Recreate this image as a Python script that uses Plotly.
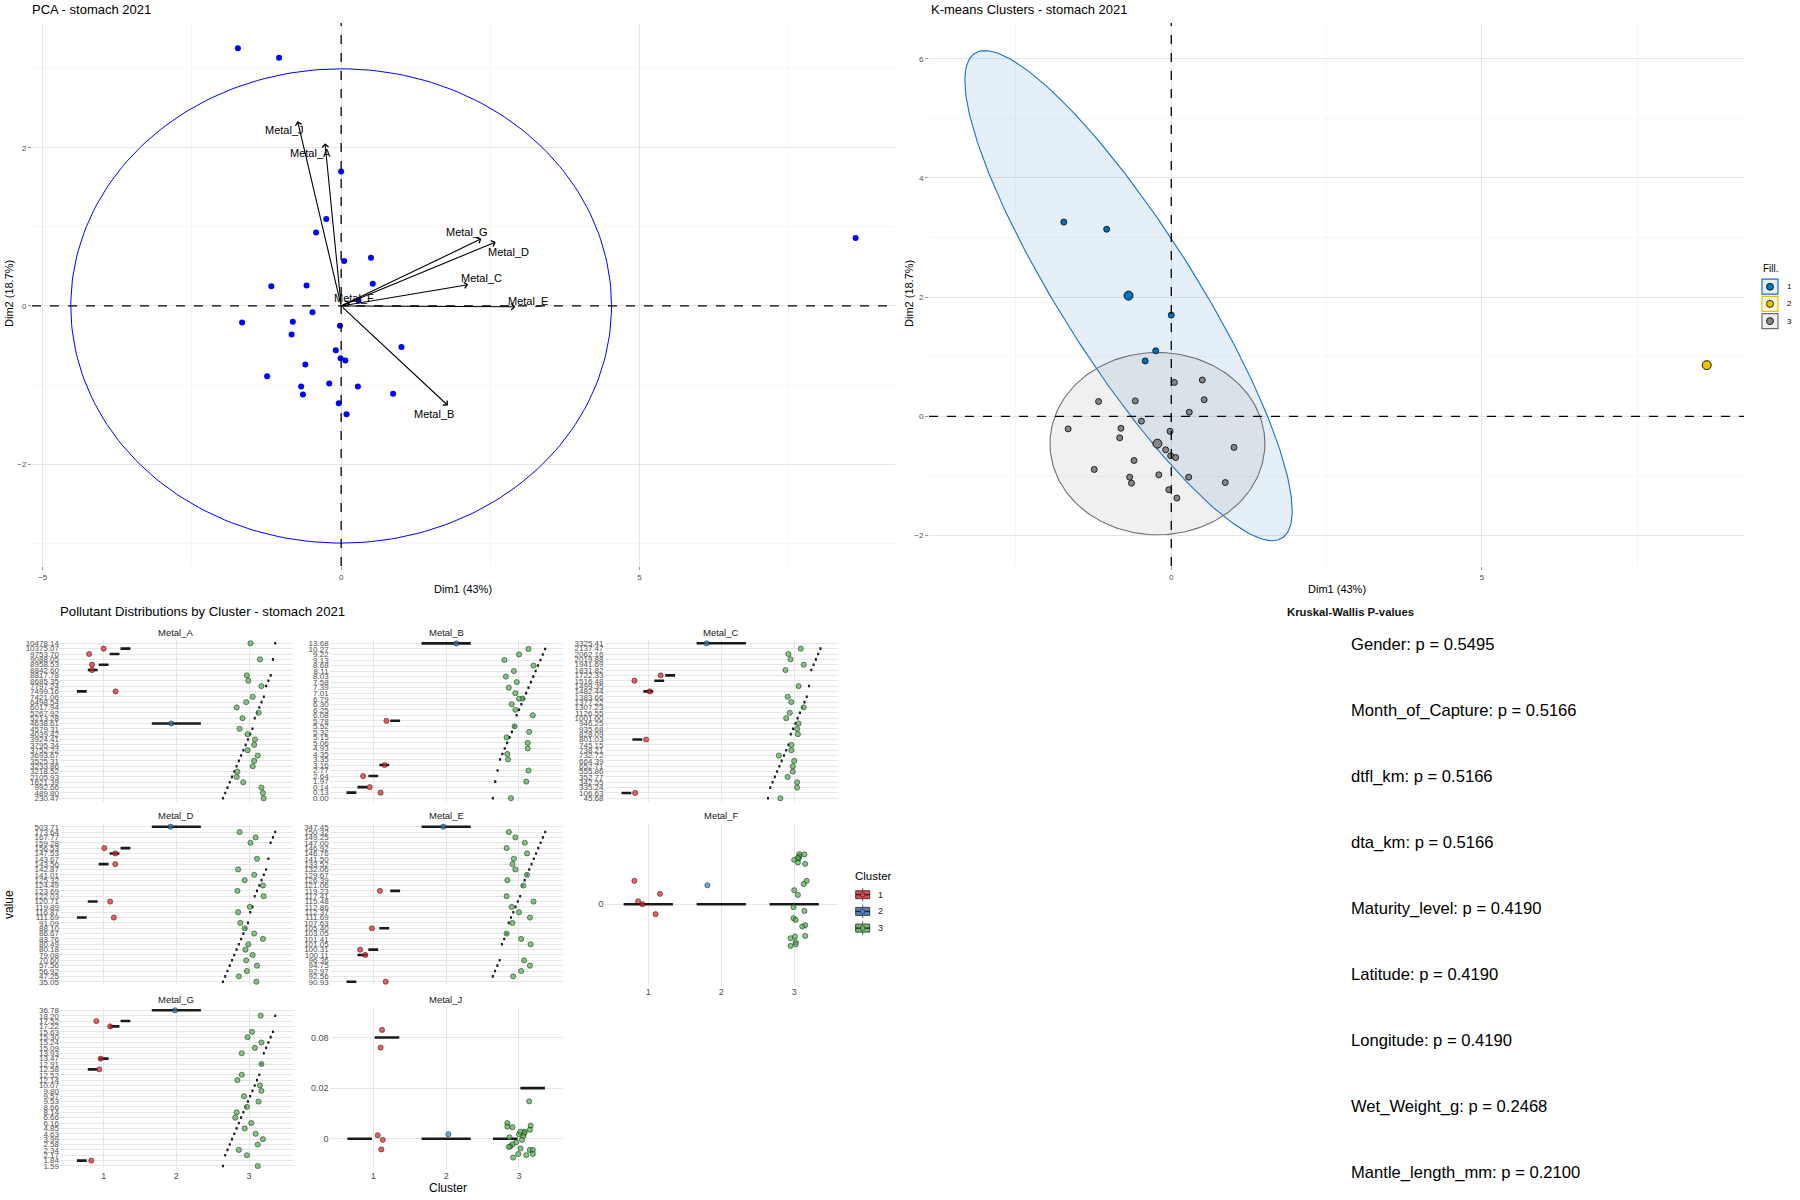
import numpy as np
import plotly.graph_objects as go

W, H = 1800, 1200
FONT = "Liberation Sans, Arial, Helvetica, sans-serif"
GRID = "#e6e6e6"
GRID_MINOR = "#f2f2f2"

# ---------------- PCA individuals (Dim1, Dim2) and k-means cluster ----------------
ind_x = [-1.73, -1.04, 0.00, -0.25, -0.42, 0.05, 0.50, 0.53, -1.17, -0.58, 0.29, -0.48, -1.66, -0.81, -0.02,
         -0.83, 1.01, -0.09, -0.01, 0.07, -0.60, -1.24, -0.20, -0.67, 0.28, 0.87, -0.64, -0.04, 0.09, 8.62]
ind_y = [3.26, 3.14, 1.70, 1.10, 0.93, 0.57, 0.61, 0.28, 0.25, 0.26, 0.07, -0.08, -0.21, -0.20, -0.25,
         -0.36, -0.52, -0.56, -0.66, -0.69, -0.74, -0.89, -0.98, -1.02, -1.02, -1.11, -1.12, -1.23, -1.37, 0.86]
ind_cluster = [1, 1, 1, 1, 1, 3, 3, 3, 3, 3, 3, 3, 3, 3, 3,
               3, 3, 3, 3, 3, 3, 3, 3, 3, 3, 3, 3, 3, 3, 2]

# variable arrows (loadings) and label positions
var_names = ["Metal_J", "Metal_A", "Metal_G", "Metal_D", "Metal_C", "Metal_E", "Metal_F", "Metal_B"]
var_x = [-0.73, -0.27, 2.35, 2.59, 2.13, 2.92, 0.15, 1.79]
var_y = [2.34, 2.06, 0.85, 0.81, 0.27, -0.01, 0.05, -1.26]
lab_x = [-0.95, -0.51, 2.11, 2.81, 2.35, 3.13, 0.22, 1.55]
lab_y = [2.22, 1.94, 0.94, 0.68, 0.35, 0.06, 0.10, -1.37]
circle_r = [4.53, 3.0]

# cluster ellipses (k-means panel): axis vectors in data units
ell1_u = [2.40, -4.10]
ell1_v = [1.087, 0.306]
ell3_r = [1.73, 1.53]

# ---------------- Pollutant facets ----------------
A_labels = ["10478.14", "10375.07", "9753.70", "9088.05", "8958.53", "8842.60", "8817.78", "8685.35", "7797.24",
            "7499.16", "7421.06", "6498.54", "6017.94", "5267.92", "5213.28", "4638.61", "4579.31", "4039.42",
            "3924.41", "3795.34", "3752.22", "3693.67", "3525.31", "3233.86", "3218.52", "2105.93", "1621.39",
            "992.66", "489.80", "230.47"]
A_clu = [3, 1, 1, 3, 1, 1, 3, 3, 3, 1, 3, 3, 3, 3, 3, 2, 3, 3, 3, 3, 3, 3, 3, 3, 3, 3, 3, 3, 3, 3]
A_x = [3.02, 1.00, 0.80, 3.15, 0.84, 0.84, 2.97, 2.99, 3.17, 1.165, 3.05, 2.96, 2.83, 3.13, 2.91, 1.93, 2.87,
       2.98, 3.08, 3.07, 2.98, 3.12, 3.07, 3.05, 2.84, 2.83, 2.92, 3.17, 3.19, 3.20]

B_labels = ["13.68", "10.27", "9.22", "9.13", "8.68", "8.11", "8.03", "7.58", "7.39", "7.01", "6.79", "6.30",
            "6.25", "6.08", "5.78", "5.52", "5.32", "5.15", "5.06", "4.93", "4.35", "3.35", "3.16", "2.77",
            "2.64", "1.97", "0.14", "0.13", "0.00"]
B_lvl = [0, 1, 2, 3, 4, 5, 6, 7, 8, 9, 10, 10, 11, 12, 13, 14, 15, 16, 17, 18, 19, 20, 21, 22, 23, 24, 25, 26, 27, 28]
B_clu = [2, 3, 3, 3, 3, 3, 3, 3, 3, 3, 3, 3, 3, 3, 3, 1, 3, 3, 3, 3, 3, 3, 3, 1, 3, 1, 3, 1, 1, 3]
B_x = [2.14, 3.13, 3.00, 2.80, 3.20, 2.93, 2.82, 2.97, 2.86, 2.95, 3.05, 3.00, 2.90, 2.95, 3.19, 1.18, 2.94,
       3.14, 2.83, 3.12, 3.12, 2.84, 2.85, 1.155, 3.13, 0.86, 3.10, 0.95, 1.10, 2.89]

C_labels = ["3325.41", "2137.47", "2062.16", "2019.88", "1941.69", "1831.82", "1722.33", "1516.48", "1499.35",
            "1482.44", "1383.66", "1377.22", "1307.23", "1126.55", "1001.00", "946.25", "935.68", "828.09",
            "801.03", "745.15", "738.21", "732.72", "664.39", "652.71", "555.86", "352.77", "342.55", "335.24",
            "106.63", "45.68"]
C_clu = [2, 3, 3, 3, 3, 3, 1, 1, 3, 1, 3, 3, 3, 3, 3, 3, 3, 3, 1, 3, 3, 3, 3, 3, 3, 3, 3, 3, 1, 3]
C_x = [1.80, 3.09, 2.92, 2.95, 3.13, 2.88, 1.17, 0.81, 3.06, 1.02, 2.91, 2.96, 3.13, 2.94, 2.89, 3.06, 3.04,
       3.05, 0.97, 2.96, 2.96, 2.79, 3.00, 2.98, 2.98, 2.91, 3.04, 3.04, 0.82, 2.81]

D_labels = ["503.71", "173.64", "167.77", "159.28", "156.53", "147.53", "143.67", "143.56", "142.87", "141.01",
            "125.32", "124.49", "123.69", "122.03", "120.71", "119.89", "116.87", "111.69", "91.09", "88.10",
            "86.67", "83.76", "80.49", "80.18", "79.08", "70.60", "57.56", "56.92", "47.25", "35.05"]
D_clu = [2, 3, 3, 3, 1, 1, 3, 1, 3, 3, 3, 3, 3, 3, 1, 3, 3, 1, 3, 3, 3, 3, 3, 3, 3, 3, 3, 3, 3, 3]
D_x = [1.92, 2.87, 3.09, 3.02, 1.01, 1.16, 3.11, 1.16, 2.85, 3.07, 2.94, 3.19, 2.84, 3.20, 1.09, 3.01, 2.85,
       1.14, 2.88, 2.94, 3.07, 3.19, 2.99, 2.95, 3.05, 2.96, 3.11, 2.97, 2.86, 3.10]

E_labels = ["347.45", "150.32", "149.25", "147.00", "146.92", "146.76", "141.50", "133.52", "132.06", "129.67",
            "126.39", "121.06", "119.23", "117.41", "115.48", "112.86", "112.37", "111.69", "107.63", "105.40",
            "103.05", "101.41", "101.05", "100.31", "100.11", "96.36", "94.75", "92.97", "92.56", "90.93"]
E_clu = [2, 3, 3, 3, 3, 3, 3, 3, 3, 3, 3, 3, 1, 3, 3, 3, 3, 3, 3, 1, 3, 3, 3, 1, 1, 3, 3, 3, 3, 1]
E_x = [1.96, 2.86, 2.95, 3.08, 2.83, 3.11, 2.93, 2.91, 2.95, 3.11, 2.84, 3.06, 1.09, 2.83, 3.20, 2.90, 3.00,
       3.15, 2.91, 0.98, 2.83, 3.03, 3.16, 0.82, 0.89, 3.07, 3.15, 3.03, 2.92, 1.17]

G_labels = ["36.78", "18.20", "17.52", "17.22", "15.63", "15.30", "15.24", "15.09", "13.93", "13.47", "12.91",
            "12.58", "12.52", "12.14", "10.07", "9.80", "9.57", "9.53", "8.66", "8.14", "6.66", "6.16", "4.85",
            "4.63", "3.99", "2.58", "2.34", "2.17", "1.84", "1.59"]
G_clu = [2, 3, 1, 1, 3, 3, 3, 3, 3, 1, 3, 1, 3, 3, 3, 3, 3, 3, 3, 3, 3, 3, 3, 3, 3, 3, 3, 3, 1, 3]
G_x = [1.98, 3.16, 0.90, 1.09, 3.04, 2.98, 3.17, 3.08, 2.90, 0.96, 3.17, 0.94, 2.90, 2.84, 3.15, 3.17, 2.93,
       3.13, 2.97, 2.83, 2.81, 3.03, 2.94, 3.09, 3.19, 3.12, 2.86, 2.97, 0.83, 3.12]

F_labels = ["0"]
F_clu = [1, 1, 1, 1, 1, 2] + [3] * 24
F_x = [0.81, 1.16, 0.86, 0.92, 1.10, 1.81,
       3.07, 3.14, 3.07, 3.06, 3.00, 3.05, 3.15, 3.17, 3.13, 3.00, 3.05, 2.99, 3.14, 2.99, 3.02, 3.15, 3.11,
       3.15, 3.01, 2.95, 3.02, 3.02, 2.95, 3.05]
F_y = [0.174, 0.077, 0.022, 0.0, -0.074, 0.141,
       0.372, 0.37, 0.355, 0.337, 0.33, 0.31, 0.30, 0.174, 0.151, 0.104, 0.069, -0.022, -0.05, -0.104, -0.117,
       -0.156, -0.166, -0.236, -0.241, -0.253, -0.283, -0.298, -0.31, 0.345]

J_labels = ["0", "0.02", "0.08"]
J_clu = [1, 1, 1, 1, 1, 2] + [3] * 24
J_cat = [2, 2, 0, 0, 0, 0, 1] + [0] * 23
J_x = [1.12, 1.10, 1.06, 1.13, 1.11, 2.03,
       3.14, 2.84, 2.84, 2.91, 3.16, 3.15, 3.08, 3.07, 3.00, 3.06, 2.87, 3.04, 2.96, 2.91, 2.88, 2.86, 3.02,
       3.15, 3.19, 2.99, 3.19, 2.92, 3.10, 3.02]
J_y = [2.15, 1.80, 0.07, -0.02, -0.21, 0.09,
       0.74, 0.31, 0.24, 0.23, 0.26, 0.18, 0.14, 0.11, 0.09, 0.05, 0.03, -0.02, -0.07, -0.11, -0.15, -0.16,
       -0.19, -0.22, -0.22, -0.30, -0.30, -0.37, -0.32, 0.14]

# ---------------- Kruskal-Wallis ----------------
kw_names = ["Gender", "Month_of_Capture", "dtfl_km", "dta_km", "Maturity_level", "Latitude", "Longitude",
            "Wet_Weight_g", "Mantle_length_mm"]
kw_p = [0.5495, 0.5166, 0.5166, 0.5166, 0.4190, 0.4190, 0.4190, 0.2468, 0.2100]

# =====================================================================
fig = go.Figure()
shapes, annotations = [], []
layout = {}


def ppx(px):
    return px / W


def ppy(py):
    return 1 - py / H


def text(x, y, s, size, color="#000000", xanchor="center", yanchor="middle", angle=0):
    annotations.append(dict(x=ppx(x), y=ppy(y), xref="paper", yref="paper", text=s, showarrow=False,
                            font=dict(size=size, color=color, family=FONT), xanchor=xanchor,
                            yanchor=yanchor, textangle=angle, borderpad=0))


def base_axis(**kw):
    d = dict(showline=False, zeroline=False, automargin=False, showgrid=True, gridcolor=GRID, gridwidth=1,
             fixedrange=True, tickfont=dict(size=8, color="#4d4d4d", family=FONT))
    d.update(kw)
    return d


# ---------------- PCA panel ----------------
layout["xaxis"] = base_axis(domain=[ppx(32), ppx(895)], range=[-5.18, 9.28], tickvals=[-5, 0, 5],
                            ticks="outside", ticklen=3, tickcolor="#555", tickwidth=0.6,
                            minor=dict(tickvals=[-2.5, 2.5, 7.5], showgrid=True, gridcolor=GRID_MINOR,
                                       gridwidth=0.7), anchor="y")
layout["yaxis"] = base_axis(domain=[ppy(566), ppy(23)], range=[-3.29, 3.58], tickvals=[-2, 0, 2],
                            ticks="outside", ticklen=3, tickcolor="#555", tickwidth=0.6,
                            minor=dict(tickvals=[-3, -1, 1, 3], showgrid=True, gridcolor=GRID_MINOR,
                                       gridwidth=0.7), anchor="x")

t = np.linspace(0, 2 * np.pi, 241)
fig.add_trace(go.Scatter(x=circle_r[0] * np.cos(t), y=circle_r[1] * np.sin(t), mode="lines",
                         line=dict(color="#0000ff", width=1), xaxis="x", yaxis="y", hoverinfo="skip"))
fig.add_trace(go.Scatter(x=ind_x, y=ind_y, mode="markers", marker=dict(size=6, color="#0000ff"),
                         xaxis="x", yaxis="y", hoverinfo="skip"))
for xa, ya in (("x", "y"), ("x2", "y2")):
    shapes.append(dict(type="line", xref=xa, yref=ya + " domain", x0=0, x1=0, y0=0, y1=1,
                       line=dict(color="black", width=1.3, dash="dash")))
    shapes.append(dict(type="line", xref=xa + " domain", yref=ya, x0=0, x1=1, y0=0, y1=0,
                       line=dict(color="black", width=1.3, dash="dash")))
for n, vx, vy, lx, ly in zip(var_names, var_x, var_y, lab_x, lab_y):
    annotations.append(dict(x=vx, y=vy, ax=0, ay=0, xref="x", yref="y", axref="x", ayref="y", text="",
                            showarrow=True, arrowhead=4, arrowsize=1.1, arrowwidth=1.1, arrowcolor="black",
                            standoff=0, startstandoff=0))
    annotations.append(dict(x=lx, y=ly, xref="x", yref="y", text=n, showarrow=False,
                            font=dict(size=11, color="black", family=FONT)))
text(31, 10, "PCA - stomach 2021", 13, xanchor="left")
text(463, 589, "Dim1 (43%)", 11)
text(9, 294, "Dim2 (18.7%)", 11, angle=-90)

# ---------------- K-means panel ----------------
layout["xaxis2"] = base_axis(domain=[ppx(929), ppx(1744)], range=[-3.90, 9.22], tickvals=[0, 5],
                             ticks="outside", ticklen=3, tickcolor="#555", tickwidth=0.6,
                             minor=dict(tickvals=[-2.5, 2.5, 7.5], showgrid=True, gridcolor=GRID_MINOR,
                                        gridwidth=0.7), anchor="y2")
layout["yaxis2"] = base_axis(domain=[ppy(566), ppy(23)], range=[-2.51, 6.6], tickvals=[-2, 0, 2, 4, 6],
                             ticks="outside", ticklen=3, tickcolor="#555", tickwidth=0.6,
                             minor=dict(tickvals=[-1, 1, 3, 5], showgrid=True, gridcolor=GRID_MINOR,
                                        gridwidth=0.7), anchor="x2")
KM_COL = {1: "#0073C2", 2: "#EFC000", 3: "#868686"}
KM_FILL = {1: "rgba(0,95,190,0.10)", 2: "rgba(239,192,0,0.12)", 3: "rgba(134,134,134,0.12)"}
KM_EDGE = {1: "#1a6fc4", 2: "#EFC000", 3: "#6e6e6e"}

cent = {}
for c in (1, 2, 3):
    xs = [x for x, k in zip(ind_x, ind_cluster) if k == c]
    ys = [y for y, k in zip(ind_y, ind_cluster) if k == c]
    cent[c] = (float(np.mean(xs)), float(np.mean(ys)))

e1x = cent[1][0] + np.cos(t) * ell1_u[0] + np.sin(t) * ell1_v[0]
e1y = cent[1][1] + np.cos(t) * ell1_u[1] + np.sin(t) * ell1_v[1]
e3x = cent[3][0] + ell3_r[0] * np.cos(t)
e3y = cent[3][1] + ell3_r[1] * np.sin(t)
fig.add_trace(go.Scatter(x=e1x, y=e1y, mode="lines", fill="toself", fillcolor=KM_FILL[1],
                         line=dict(color=KM_EDGE[1], width=1.1), xaxis="x2", yaxis="y2", hoverinfo="skip"))
fig.add_trace(go.Scatter(x=e3x, y=e3y, mode="lines", fill="toself", fillcolor=KM_FILL[3],
                         line=dict(color=KM_EDGE[3], width=1.1), xaxis="x2", yaxis="y2", hoverinfo="skip"))
for c in (1, 2, 3):
    xs = [x for x, k in zip(ind_x, ind_cluster) if k == c]
    ys = [y for y, k in zip(ind_y, ind_cluster) if k == c]
    fig.add_trace(go.Scatter(x=xs, y=ys, mode="markers",
                             marker=dict(size=6, color=KM_COL[c], line=dict(color="black", width=0.8)),
                             xaxis="x2", yaxis="y2", hoverinfo="skip"))
for c in (1, 2, 3):
    fig.add_trace(go.Scatter(x=[cent[c][0]], y=[cent[c][1]], mode="markers",
                             marker=dict(size=9, color=KM_COL[c], line=dict(color="black", width=0.9)),
                             xaxis="x2", yaxis="y2", hoverinfo="skip"))
text(930, 10, "K-means Clusters - stomach 2021", 13, xanchor="left")
text(1337, 589, "Dim1 (43%)", 11)
text(909, 294, "Dim2 (18.7%)", 11, angle=-90)

# K-means legend
text(1762, 268, "Fill.", 10, xanchor="left")
for i, c in enumerate((1, 2, 3)):
    cy = 286.7 + i * 17.2
    shapes.append(dict(type="rect", xref="paper", yref="paper", x0=ppx(1762), x1=ppx(1778),
                       y0=ppy(cy + 7.5), y1=ppy(cy - 7.5), line=dict(color=KM_EDGE[c], width=1.2),
                       fillcolor=KM_FILL[c]))
    shapes.append(dict(type="circle", xref="paper", yref="paper", x0=ppx(1766.5), x1=ppx(1773.5),
                       y0=ppy(cy + 3.5), y1=ppy(cy - 3.5), line=dict(color="black", width=0.8),
                       fillcolor=KM_COL[c]))
    text(1786, cy, str(c), 8, xanchor="left")

# ---------------- Facets ----------------
PT_FILL = {1: "rgba(228,26,28,0.7)", 2: "rgba(55,126,184,0.7)", 3: "rgba(77,175,74,0.7)"}
cols = [(60, 292.7), (329.6, 562.7), (604.5, 838)]
rows = [(640.1, 801.5), (823.5, 984.9), (1007.1, 1169.2)]


def draw_facet(idx, name, labels_b2t, clu, lvl_b, xs, ys, col, row, show_x):
    xa, ya = f"x{idx}", f"y{idx}"
    n = len(labels_b2t)
    (x0, x1), (y0, y1) = cols[col], rows[row]
    layout[f"xaxis{idx}"] = base_axis(domain=[ppx(x0), ppx(x1)], range=[0.4, 3.6], tickvals=[1, 2, 3],
                                      ticktext=["1", "2", "3"], showticklabels=show_x, anchor=ya,
                                      tickfont=dict(size=9, color="#4d4d4d", family=FONT))
    layout[f"yaxis{idx}"] = base_axis(domain=[ppy(y1), ppy(y0)], range=[-0.6, n - 0.4],
                                      tickvals=list(range(n)), ticktext=labels_b2t, anchor=xa,
                                      tickfont=dict(size=8 if n > 3 else 9, color="#4d4d4d", family=FONT))
    # boxplots (one per cluster x value group, dodged)
    groups = {}
    for c, g in zip(clu, lvl_b):
        groups.setdefault(c, set()).add(g)
    bx, by = [], []
    for c, gs in groups.items():
        gs = sorted(gs)
        m = len(gs)
        for j, g in enumerate(gs):
            cx = c - 0.375 + (j + 0.5) * 0.75 / m
            hw = 0.45 * 0.75 / m
            bx += [cx - hw, cx + hw, None]
            by += [g, g, None]
    fig.add_trace(go.Scatter(x=bx, y=by, mode="lines", line=dict(color="#1a1a1a", width=2.6),
                             xaxis=xa, yaxis=ya, hoverinfo="skip"))
    for c in (1, 2, 3):
        sel = [i for i in range(len(clu)) if clu[i] == c]
        fig.add_trace(go.Scatter(x=[xs[i] for i in sel], y=[ys[i] for i in sel], mode="markers",
                                 marker=dict(size=5.2, color=PT_FILL[c],
                                             line=dict(color="rgba(25,25,25,0.85)", width=0.6)),
                                 xaxis=xa, yaxis=ya, hoverinfo="skip"))
    text((x0 + x1) / 2, y0 - 8, name, 9.5, color="#1a1a1a")


def dense(labels, clu, xs, lvl_top=None):
    n = len(labels)
    if lvl_top is None:
        lvl_top = list(range(n))
    lb = [n - 1 - k for k in lvl_top]
    return labels[::-1], clu, lb, xs, lb


draw_facet(3, "Metal_A", *dense(A_labels, A_clu, A_x), col=0, row=0, show_x=False)
draw_facet(4, "Metal_B", *dense(B_labels, B_clu, B_x, B_lvl), col=1, row=0, show_x=False)
draw_facet(5, "Metal_C", *dense(C_labels, C_clu, C_x), col=2, row=0, show_x=False)
draw_facet(6, "Metal_D", *dense(D_labels, D_clu, D_x), col=0, row=1, show_x=False)
draw_facet(7, "Metal_E", *dense(E_labels, E_clu, E_x), col=1, row=1, show_x=False)
draw_facet(8, "Metal_F", F_labels, F_clu, [0] * len(F_clu), F_x, F_y, col=2, row=1, show_x=True)
draw_facet(9, "Metal_G", *dense(G_labels, G_clu, G_x), col=0, row=2, show_x=True)
draw_facet(10, "Metal_J", J_labels, J_clu, J_cat, J_x, J_y, col=1, row=2, show_x=True)

text(59, 611, "Pollutant Distributions by Cluster - stomach 2021", 13.2, xanchor="left")
text(448, 1188, "Cluster", 12)
text(9, 905, "value", 12, angle=-90)

# facet legend
text(854, 876, "Cluster", 11.5, xanchor="left")
FACET_SOLID = {1: "#dc4a53", 2: "#5384bb", 3: "#70bb6d"}
for i, c in enumerate((1, 2, 3)):
    cy = 894.7 + i * 16.7
    shapes.append(dict(type="line", xref="paper", yref="paper", x0=ppx(862.7), x1=ppx(862.7),
                       y0=ppy(cy + 6.7), y1=ppy(cy - 6.7), line=dict(color="#333", width=0.8)))
    shapes.append(dict(type="rect", xref="paper", yref="paper", x0=ppx(855.7), x1=ppx(869.7),
                       y0=ppy(cy + 4), y1=ppy(cy - 4), line=dict(color="#333", width=0.9),
                       fillcolor=FACET_SOLID[c]))
    shapes.append(dict(type="line", xref="paper", yref="paper", x0=ppx(855.7), x1=ppx(869.7),
                       y0=ppy(cy), y1=ppy(cy), line=dict(color="#222", width=1.3)))
    shapes.append(dict(type="circle", xref="paper", yref="paper", x0=ppx(860.4), x1=ppx(865),
                       y0=ppy(cy + 2.3), y1=ppy(cy - 2.3), line=dict(color="#222", width=0.6),
                       fillcolor=FACET_SOLID[c]))
    text(877.3, cy, str(c), 9, xanchor="left", color="#1a1a1a")

# ---------------- Kruskal-Wallis text ----------------
text(1350, 612, "<b>Kruskal-Wallis P-values</b>", 11.3, color="#111")
for i, (nme, p) in enumerate(zip(kw_names, kw_p)):
    text(1350, 644 + i * 66.1, f"{nme}: p = {p:.4f}", 16.6, xanchor="left")

layout.update(dict(width=W, height=H, margin=dict(l=0, r=0, t=0, b=0), showlegend=False,
                   plot_bgcolor="white", paper_bgcolor="white", font=dict(family=FONT),
                   shapes=shapes, annotations=annotations))
fig.update_layout(**layout)
fig.write_html("out.html", config={"displayModeBar": False, "staticPlot": True},
               post_script="document.body.style.margin='0';")
